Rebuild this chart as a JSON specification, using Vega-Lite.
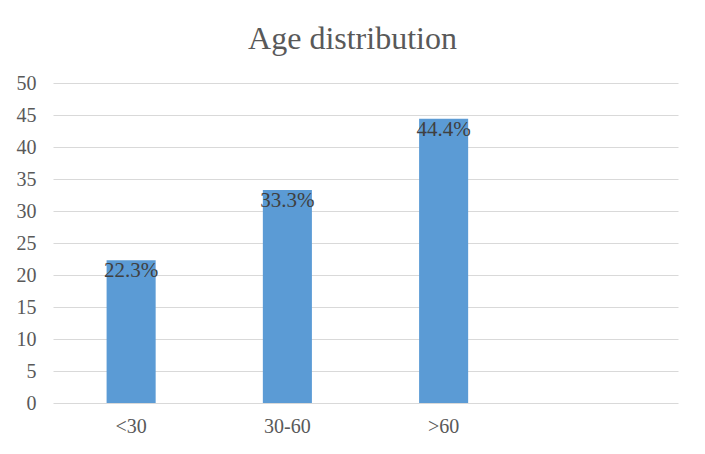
{
  "$schema": "https://vega.github.io/schema/vega-lite/v6.json",
  "autosize": "none",
  "padding": {"left": 53, "top": 83, "right": 27, "bottom": 51},
  "width": 625,
  "height": 320,
  "background": "white",
  "config": {"view": {"stroke": null}},
  "title": {
    "text": "Age distribution",
    "font": "Liberation Serif",
    "fontSize": 32,
    "fontWeight": "normal",
    "color": "#595959",
    "anchor": "middle",
    "offset": 17,
    "dx": -13
  },
  "data": {
    "values": [
      {"age": "<30", "value": 22.3, "label": "22.3%"},
      {"age": "30-60", "value": 33.3, "label": "33.3%"},
      {"age": ">60", "value": 44.4, "label": "44.4%"}
    ]
  },
  "encoding": {
    "x": {
      "field": "age",
      "type": "nominal",
      "sort": null,
      "scale": {"domain": ["<30", "30-60", ">60", " "], "paddingInner": 0.686, "paddingOuter": 0.343},
      "axis": {
        "title": null,
        "labelAngle": 0,
        "domain": false,
        "ticks": false,
        "labelFont": "Liberation Serif",
        "labelFontSize": 20,
        "labelColor": "#595959",
        "labelPadding": 13
      }
    },
    "y": {
      "field": "value",
      "type": "quantitative",
      "scale": {"domain": [0, 50], "nice": false},
      "axis": {
        "title": null,
        "values": [0, 5, 10, 15, 20, 25, 30, 35, 40, 45, 50],
        "labelOverlap": false,
        "domain": false,
        "ticks": false,
        "grid": true,
        "gridColor": "#d9d9d9",
        "gridWidth": 1,
        "labelFont": "Liberation Serif",
        "labelFontSize": 20,
        "labelColor": "#595959",
        "labelPadding": 17
      }
    }
  },
  "layer": [
    {
      "mark": {"type": "bar", "color": "#5b9bd5"}
    },
    {
      "mark": {"type": "text", "baseline": "top", "dy": 0, "font": "Liberation Serif", "fontSize": 21, "color": "#404040"},
      "encoding": {
        "text": {"field": "label"}
      }
    }
  ]
}
